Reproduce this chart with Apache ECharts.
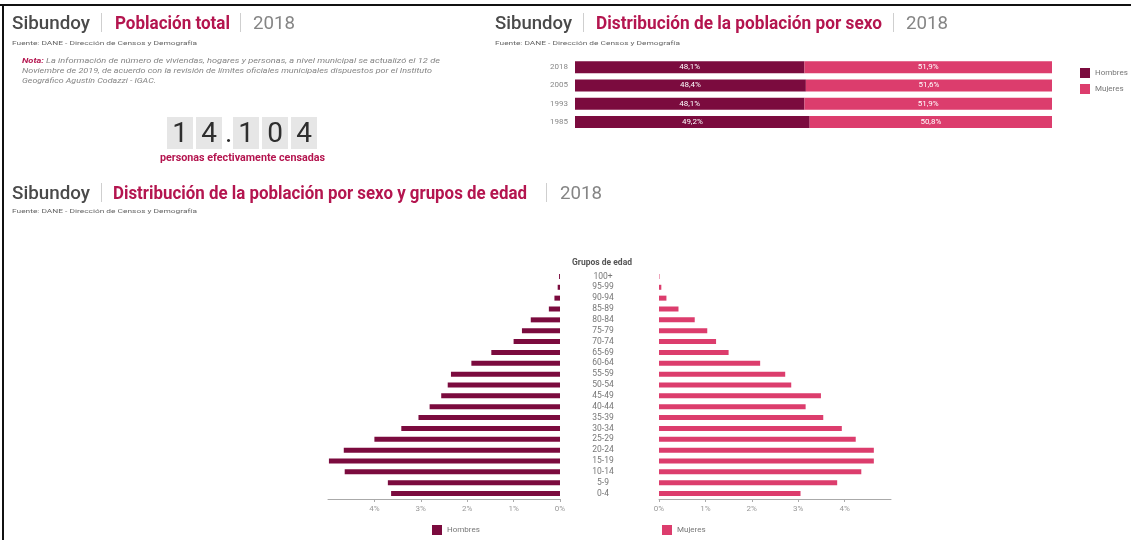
<!DOCTYPE html>
<html lang="es">
<head>
<meta charset="utf-8">
<title>Sibundoy 2018</title>
<script src="https://cdn.jsdelivr.net/npm/echarts@6.0.0/dist/echarts.min.js"></script>
<style>
html,body{margin:0;padding:0;background:#fff;}
#page{position:relative;width:1131px;height:540px;overflow:hidden;font-family:Roboto,"Noto Sans",sans-serif;}
#chart{position:absolute;left:0;top:0;width:1131px;height:540px;}
.t{position:absolute;white-space:nowrap;line-height:1;transform-origin:0 0;}
.sib{font-size:18px;font-weight:500;color:#4a4a4a;}
.main{font-size:18px;font-weight:700;color:#b4154f;}
.yr{font-size:18px;font-weight:400;color:#858585;}
.sep{position:absolute;width:1px;height:19px;background:#cfcfcf;}
.src{font-size:6px;color:#666;}
.nota{font-size:7.5px;font-style:italic;color:#858585;}
.nota b{color:#b4154f;}
.box{position:absolute;top:117px;width:26px;height:32px;background:#e6e6e6;color:#2e2e2e;font-size:28px;line-height:32px;text-align:center;}
.dot{position:absolute;top:117px;width:5px;height:32px;color:#2e2e2e;font-size:28px;line-height:32px;text-align:center;}
.line{position:absolute;background:#111;}
</style>
</head>
<body>
<div id="page">
  <div id="chart"></div>

  <div class="line" style="left:0;top:4px;width:1131px;height:2px"></div>
  <div class="line" style="left:2px;top:4px;width:2px;height:536px"></div>

  <!-- Población total -->
  <span class="t sib" style="left:12px;top:14px" data-w="78">Sibundoy</span>
  <span class="sep" style="left:101px;top:13px"></span>
  <span class="t main" style="left:115px;top:14px" data-w="115">Población total</span>
  <span class="sep" style="left:240px;top:13px"></span>
  <span class="t yr" style="left:253px;top:14px" data-w="42">2018</span>
  <span class="t src" style="left:12px;top:40px" data-w="185">Fuente: DANE - Dirección de Censos y Demografía</span>
  <span class="t nota" style="left:22px;top:57px" data-w="418"><b>Nota:</b> La información de número de viviendas, hogares y personas, a nivel municipal se actualizó el 12 de</span>
  <span class="t nota" style="left:22px;top:67px" data-w="410">Noviembre de 2019, de acuerdo con la revisión de límites oficiales municipales dispuestos por el Instituto</span>
  <span class="t nota" style="left:22px;top:77px" data-w="134">Geográfico Agustín Codazzi - IGAC.</span>
  <div id="counter"></div>
  <span class="t main" style="left:160px;top:153px;font-size:10px" data-w="165">personas efectivamente censadas</span>

  <!-- Distribución por sexo -->
  <span class="t sib" style="left:495px;top:14px" data-w="77">Sibundoy</span>
  <span class="sep" style="left:583px;top:13px"></span>
  <span class="t main" style="left:596px;top:14px" data-w="286">Distribución de la población por sexo</span>
  <span class="sep" style="left:893px;top:13px"></span>
  <span class="t yr" style="left:906px;top:14px" data-w="42">2018</span>
  <span class="t src" style="left:495px;top:40px" data-w="185">Fuente: DANE - Dirección de Censos y Demografía</span>

  <!-- Pirámide -->
  <span class="t sib" style="left:12px;top:184px" data-w="78">Sibundoy</span>
  <span class="sep" style="left:101px;top:183px"></span>
  <span class="t main" style="left:113px;top:184px" data-w="414">Distribución de la población por sexo y grupos de edad</span>
  <span class="sep" style="left:546px;top:183px"></span>
  <span class="t yr" style="left:560px;top:184px" data-w="42">2018</span>
  <span class="t src" style="left:12px;top:208px" data-w="185">Fuente: DANE - Dirección de Censos y Demografía</span>
</div>

<script>
// datos
var totalCensadas = '14.104';

var years = ['2018', '2005', '1993', '1985'];
var hombresPct = [48.1, 48.4, 48.1, 49.2];
var mujeresPct = [51.9, 51.6, 51.9, 50.8];

var ageGroups = ['0-4', '5-9', '10-14', '15-19', '20-24', '25-29', '30-34', '35-39', '40-44', '45-49',
  '50-54', '55-59', '60-64', '65-69', '70-74', '75-79', '80-84', '85-89', '90-94', '95-99', '100+'];
var hombresEdad = [3.64, 3.71, 4.64, 4.98, 4.66, 4.00, 3.42, 3.05, 2.81, 2.56,
  2.42, 2.35, 1.91, 1.48, 1.00, 0.82, 0.63, 0.24, 0.12, 0.05, 0.02];
var mujeresEdad = [3.05, 3.84, 4.36, 4.63, 4.63, 4.24, 3.94, 3.54, 3.16, 3.49,
  2.85, 2.72, 2.18, 1.50, 1.23, 1.04, 0.77, 0.42, 0.16, 0.05, 0.01];

var colorH = '#7b0b3e';
var colorM = '#dc3d6d';

// contador de personas (cajas de dígitos)
var counter = document.getElementById('counter');
var x = 167;
for (var i = 0; i < totalCensadas.length; i++) {
  var ch = totalCensadas[i];
  var el = document.createElement('div');
  el.textContent = ch;
  if (ch === '.') {
    el.className = 'dot';
    el.style.left = x + 'px';
    x += 5 + 3;
  } else {
    el.className = 'box';
    el.style.left = x + 'px';
    x += 26 + 3;
  }
  counter.appendChild(el);
}

// ajustar ancho de los textos condensados
document.querySelectorAll('[data-w]').forEach(function (el) {
  var w = el.getBoundingClientRect().width;
  el.style.transform = 'scaleX(' + (el.dataset.w / w) + ')';
});

function pct(v) {
  return v.toFixed(1).replace('.', ',') + '%';
}

var myChart = echarts.init(document.getElementById('chart'));

var valueAxis = {
  type: 'value',
  min: 0,
  max: 5,
  interval: 1,
  splitLine: { show: false },
  axisLine: { show: true, lineStyle: { color: '#aaa' } },
  axisTick: { show: true, length: 3, lineStyle: { color: '#aaa' } },
  axisLabel: { formatter: '{value}%', color: '#999', fontSize: 8, margin: 6, showMaxLabel: false }
};

myChart.setOption({
  animation: false,
  textStyle: { fontFamily: 'Roboto' },
  graphic: [{
    type: 'text',
    x: 602,
    y: 263,
    style: {
      text: 'Grupos de edad',
      fill: '#555',
      font: 'bold 8.5px Roboto',
      align: 'center', verticalAlign: 'middle',
      textAlign: 'center', textVerticalAlign: 'middle'
    }
  }],
  legend: [
    {
      data: ['Hombres', 'Mujeres'],
      orient: 'vertical',
      left: 1075, top: 63,
      icon: 'rect', itemWidth: 10, itemHeight: 10, itemGap: 6,
      textStyle: { fontSize: 8, color: '#777' }
    },
    {
      data: ['Hombres'],
      left: 427, top: 520,
      icon: 'rect', itemWidth: 10, itemHeight: 10,
      textStyle: { fontSize: 8, color: '#777' }
    },
    {
      data: ['Mujeres'],
      left: 657, top: 520,
      icon: 'rect', itemWidth: 10, itemHeight: 10,
      textStyle: { fontSize: 8, color: '#777' }
    }
  ],
  grid: [
    { left: 575, right: 79, top: 58, height: 73 },
    { left: 328, width: 232, top: 271, height: 228 },
    { left: 659, width: 232, top: 271, height: 228 }
  ],
  xAxis: [
    { gridIndex: 0, type: 'value', min: 0, max: 100, show: false },
    Object.assign({ gridIndex: 1, inverse: true }, valueAxis),
    Object.assign({ gridIndex: 2 }, valueAxis)
  ],
  yAxis: [
    {
      gridIndex: 0, type: 'category', data: years, inverse: true,
      axisLine: { show: false }, axisTick: { show: false },
      axisLabel: { color: '#888', fontSize: 8, margin: 7 }
    },
    {
      gridIndex: 1, type: 'category', data: ageGroups, position: 'right',
      axisLine: { show: false }, axisTick: { show: false },
      axisLabel: { color: '#777', fontSize: 8.5, margin: 43, align: 'center', interval: 0 }
    },
    {
      gridIndex: 2, type: 'category', data: ageGroups,
      axisLine: { show: false }, axisTick: { show: false }, axisLabel: { show: false }
    }
  ],
  series: [
    {
      name: 'Hombres', type: 'bar', stack: 'sexo', xAxisIndex: 0, yAxisIndex: 0,
      data: hombresPct, barWidth: 12,
      itemStyle: { color: colorH },
      label: { show: true, position: 'inside', color: '#fff', fontSize: 8, formatter: function (p) { return pct(p.value); } }
    },
    {
      name: 'Mujeres', type: 'bar', stack: 'sexo', xAxisIndex: 0, yAxisIndex: 0,
      data: mujeresPct, barWidth: 12,
      itemStyle: { color: colorM },
      label: { show: true, position: 'inside', color: '#fff', fontSize: 8, formatter: function (p) { return pct(p.value); } }
    },
    {
      name: 'Hombres', type: 'bar', xAxisIndex: 1, yAxisIndex: 1,
      data: hombresEdad, barWidth: 5,
      itemStyle: { color: colorH }
    },
    {
      name: 'Mujeres', type: 'bar', xAxisIndex: 2, yAxisIndex: 2,
      data: mujeresEdad, barWidth: 5,
      itemStyle: { color: colorM }
    }
  ]
});
</script>
</body>
</html>
